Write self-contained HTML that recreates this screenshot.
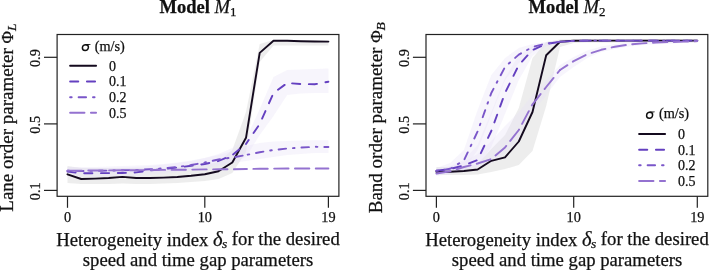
<!DOCTYPE html>
<html><head><meta charset="utf-8"><style>
html,body{margin:0;padding:0;background:#fff;}
svg{display:block;will-change:transform;}
text{font-family:"Liberation Serif",serif;fill:#111;stroke:#111;stroke-width:0.25px;}
.tk{font-size:14.3px;}
.lg{font-size:14px;}
.ti{font-size:18.5px;font-weight:bold;}
.lb{font-size:18.7px;}
</style></head><body>
<svg width="709" height="270" viewBox="0 0 709 270">
<rect width="709" height="270" fill="#fff"/>
<polygon points="67.5,166.0 81.2,168.0 95.0,168.0 108.7,168.0 122.4,168.0 136.2,168.0 149.9,168.0 163.6,168.0 177.3,167.0 191.1,166.0 204.8,165.0 218.5,162.0 232.3,150.0 246.0,112.0 259.7,44.0 273.5,40.0 287.2,40.0 300.9,40.5 314.6,40.8 328.4,41.0 328.4,45.5 314.6,45.5 300.9,45.5 287.2,45.5 273.5,45.5 259.7,62.0 246.0,152.0 232.3,173.0 218.5,179.0 204.8,181.0 191.1,182.0 177.3,183.0 163.6,183.5 149.9,184.0 136.2,184.0 122.4,183.5 108.7,184.0 95.0,184.0 81.2,184.0 67.5,183.0" fill="#d6d6d6" fill-opacity="0.45"/>
<polygon points="67.5,167.0 81.2,168.0 95.0,168.0 108.7,168.0 122.4,167.5 136.2,167.0 149.9,166.0 163.6,164.5 177.3,163.0 191.1,161.0 204.8,158.0 218.5,154.0 232.3,148.0 246.0,139.0 259.7,109.0 273.5,77.0 287.2,70.0 300.9,69.5 314.6,69.0 328.4,68.5 328.4,93.0 314.6,93.0 300.9,93.5 287.2,95.0 273.5,116.0 259.7,135.0 246.0,157.0 232.3,163.0 218.5,166.5 204.8,169.0 191.1,171.0 177.3,172.5 163.6,174.0 149.9,175.0 136.2,176.0 122.4,176.5 108.7,177.0 95.0,177.0 81.2,177.0 67.5,175.0" fill="#e8e2f8" fill-opacity="0.36"/>
<polygon points="67.5,167.0 81.2,167.0 95.0,167.0 108.7,166.5 122.4,166.0 136.2,165.5 149.9,165.0 163.6,164.0 177.3,162.5 191.1,160.5 204.8,158.0 218.5,155.0 232.3,151.0 246.0,146.0 259.7,143.0 273.5,141.5 287.2,141.0 300.9,140.5 314.6,140.2 328.4,140.2 328.4,153.0 314.6,153.0 300.9,154.0 287.2,155.0 273.5,157.0 259.7,159.0 246.0,161.0 232.3,163.0 218.5,165.0 204.8,167.5 191.1,169.5 177.3,171.0 163.6,172.0 149.9,172.5 136.2,173.0 122.4,173.5 108.7,173.5 95.0,174.0 81.2,174.0 67.5,174.0" fill="#e8e2f8" fill-opacity="0.36"/>
<polyline points="67.5,174.3 81.2,179.0 95.0,178.6 108.7,178.0 122.4,176.9 136.2,178.0 149.9,178.0 163.6,177.6 177.3,177.0 191.1,175.8 204.8,174.3 218.5,171.3 232.3,162.5 246.0,137.8 259.7,52.9 273.5,40.7 287.2,40.8 300.9,41.2 314.6,41.5 328.4,41.6" fill="none" stroke="#140a1e" stroke-width="1.9" stroke-linejoin="round" stroke-linecap="round"/>
<polyline points="67.5,171.5 81.2,173.3 95.0,173.2 108.7,173.1 122.4,173.0 136.2,172.4 149.9,170.5 163.6,169.0 177.3,167.5 191.1,165.8 204.8,164.0 218.5,161.0 232.3,155.0 246.0,144.0" fill="none" stroke="#6440c0" stroke-width="1.9" stroke-linejoin="round" stroke-linecap="round" stroke-dasharray="8.2 8.6" stroke-dashoffset="0.00"/>
<polyline points="246.0,144.0 259.7,124.0 273.5,93.0 287.2,83.0" fill="none" stroke="#6440c0" stroke-width="1.9" stroke-linejoin="round" stroke-linecap="round" stroke-dasharray="8.2 8.6" stroke-dashoffset="3.45"/>
<polyline points="287.2,83.0 300.9,84.0 314.6,84.3 328.4,81.7" fill="none" stroke="#6440c0" stroke-width="1.9" stroke-linejoin="round" stroke-linecap="round" stroke-dasharray="8.2 8.6" stroke-dashoffset="11.92"/>
<polyline points="67.5,170.8 81.2,171.0 95.0,170.8 108.7,170.6 122.4,170.3 136.2,170.0 149.9,169.3 163.6,168.3 177.3,167.0 191.1,165.0 204.8,162.5 218.5,159.5 232.3,157.5 246.0,155.0" fill="none" stroke="#7a56c9" stroke-width="1.9" stroke-linejoin="round" stroke-linecap="round" stroke-dasharray="1.6 6.9 7.5 6.9" stroke-dashoffset="0.00"/>
<polyline points="246.0,155.0 259.7,152.3 273.5,150.0 287.2,148.5 300.9,147.6 314.6,146.8 328.4,147.0" fill="none" stroke="#7a56c9" stroke-width="1.9" stroke-linejoin="round" stroke-linecap="round" stroke-dasharray="1.6 6.9 7.5 6.9" stroke-dashoffset="21.19"/>
<polyline points="67.5,170.6 81.2,170.6 95.0,170.5 108.7,170.4 122.4,170.3 136.2,170.2 149.9,170.0 163.6,169.9 177.3,169.8 191.1,169.6 204.8,169.4 218.5,169.3 232.3,169.2 246.0,169.0" fill="none" stroke="#9472d0" stroke-width="1.9" stroke-linejoin="round" stroke-linecap="round" stroke-dasharray="14.4 6.4" stroke-dashoffset="0.00"/>
<polyline points="246.0,169.0 259.7,168.8 273.5,168.6 287.2,168.5 300.9,168.5 314.6,168.5 328.4,168.5" fill="none" stroke="#9472d0" stroke-width="1.9" stroke-linejoin="round" stroke-linecap="round" stroke-dasharray="14.4 6.4" stroke-dashoffset="13.44"/>
<rect x="57.1" y="34.5" width="281.8" height="161.8" fill="none" stroke="#222" stroke-width="1.2"/>
<line x1="44.0" y1="190.4" x2="57.1" y2="190.4" stroke="#222" stroke-width="1.2"/>
<text transform="translate(39.8 191.2) rotate(-90)" class="tk" text-anchor="middle">0.1</text>
<line x1="44.0" y1="123.9" x2="57.1" y2="123.9" stroke="#222" stroke-width="1.2"/>
<text transform="translate(39.8 124.7) rotate(-90)" class="tk" text-anchor="middle">0.5</text>
<line x1="44.0" y1="57.3" x2="57.1" y2="57.3" stroke="#222" stroke-width="1.2"/>
<text transform="translate(39.8 58.1) rotate(-90)" class="tk" text-anchor="middle">0.9</text>
<line x1="67.5" y1="196.3" x2="67.5" y2="207.8" stroke="#222" stroke-width="1.2"/>
<text x="67.5" y="221.6" class="tk" text-anchor="middle">0</text>
<line x1="204.8" y1="196.3" x2="204.8" y2="207.8" stroke="#222" stroke-width="1.2"/>
<text x="204.8" y="221.6" class="tk" text-anchor="middle">10</text>
<line x1="328.4" y1="196.3" x2="328.4" y2="207.8" stroke="#222" stroke-width="1.2"/>
<text x="328.4" y="221.6" class="tk" text-anchor="middle">19</text>
<polygon points="436.4,167.0 450.1,167.0 463.9,166.0 477.6,164.0 491.3,149.0 505.0,135.0 518.8,108.0 532.5,58.0 546.2,42.0 560.0,39.5 573.7,39.0 587.4,39.0 601.2,39.0 614.9,39.0 628.6,39.0 642.4,39.0 656.1,39.0 669.8,39.0 683.5,39.0 697.3,39.0 697.3,42.5 683.5,42.5 669.8,42.5 656.1,42.5 642.4,42.5 628.6,42.5 614.9,42.5 601.2,42.5 587.4,42.5 573.7,43.0 560.0,47.0 546.2,106.0 532.5,151.0 518.8,165.0 505.0,169.0 491.3,172.0 477.6,174.5 463.9,175.0 450.1,175.0 436.4,175.0" fill="#d6d6d6" fill-opacity="0.45"/>
<polygon points="436.4,169.0 450.1,166.0 463.9,160.0 477.6,145.0 491.3,112.0 505.0,78.0 518.8,55.0 532.5,46.0 546.2,42.5 560.0,41.0 573.7,40.0 587.4,39.5 601.2,39.5 614.9,39.5 628.6,39.5 642.4,39.5 656.1,39.5 669.8,39.5 683.5,39.5 697.3,39.5 697.3,41.5 683.5,41.5 669.8,41.5 656.1,41.5 642.4,41.5 628.6,41.5 614.9,41.5 601.2,41.5 587.4,41.5 573.7,42.0 560.0,43.0 546.2,46.0 532.5,56.0 518.8,80.0 505.0,114.0 491.3,147.0 477.6,167.0 463.9,170.0 450.1,173.0 436.4,175.0" fill="#e8e2f8" fill-opacity="0.36"/>
<polygon points="436.4,168.0 450.1,163.0 463.9,150.0 477.6,110.0 491.3,75.0 505.0,58.0 518.8,48.0 532.5,44.0 546.2,42.0 560.0,40.5 573.7,40.0 587.4,39.5 601.2,39.5 614.9,39.5 628.6,39.5 642.4,39.5 656.1,39.5 669.8,39.5 683.5,39.5 697.3,39.5 697.3,41.5 683.5,41.5 669.8,41.5 656.1,41.5 642.4,41.5 628.6,41.5 614.9,41.5 601.2,41.5 587.4,41.5 573.7,42.0 560.0,43.0 546.2,46.0 532.5,52.0 518.8,63.0 505.0,80.0 491.3,115.0 477.6,150.0 463.9,170.0 450.1,174.0 436.4,175.0" fill="#e8e2f8" fill-opacity="0.36"/>
<polygon points="436.4,170.0 450.1,167.0 463.9,162.0 477.6,154.0 491.3,141.0 505.0,126.0 518.8,112.0 532.5,95.0 546.2,80.0 560.0,65.0 573.7,57.0 587.4,50.5 601.2,46.5 614.9,44.0 628.6,42.4 642.4,41.4 656.1,40.8 669.8,40.4 683.5,40.0 697.3,39.8 697.3,42.5 683.5,43.0 669.8,43.8 656.1,44.3 642.4,45.0 628.6,46.5 614.9,49.0 601.2,52.0 587.4,58.0 573.7,67.0 560.0,77.0 546.2,95.0 532.5,113.0 518.8,138.0 505.0,154.0 491.3,163.0 477.6,167.5 463.9,171.0 450.1,174.0 436.4,176.0" fill="#e8e2f8" fill-opacity="0.36"/>
<polyline points="436.4,171.8 450.1,171.7 463.9,171.0 477.6,169.5 491.3,160.8 505.0,157.3 518.8,141.5 532.5,112.0 546.2,55.2 560.0,41.8 573.7,40.7 587.4,40.6 601.2,40.6 614.9,40.6 628.6,40.6 642.4,40.6 656.1,40.6 669.8,40.6 683.5,40.6 697.3,40.6" fill="none" stroke="#140a1e" stroke-width="1.9" stroke-linejoin="round" stroke-linecap="round"/>
<polyline points="436.4,170.8 450.1,169.0 463.9,165.5 477.6,160.0 491.3,131.0 505.0,93.0 518.8,65.0 532.5,50.0 546.2,44.0 560.0,41.8 573.7,40.9 587.4,40.6 601.2,40.6 614.9,40.6 628.6,40.6 642.4,40.6 656.1,40.6 669.8,40.6 683.5,40.6 697.3,40.6" fill="none" stroke="#6440c0" stroke-width="1.9" stroke-linejoin="round" stroke-linecap="round" stroke-dasharray="8.2 8.6" stroke-dashoffset="0.00"/>
<polyline points="436.4,170.8 450.1,168.8 463.9,160.5 477.6,131.5 491.3,93.0 505.0,67.0 518.8,54.6 532.5,47.0 546.2,43.5 560.0,41.8 573.7,40.9 587.4,40.6 601.2,40.6 614.9,40.6 628.6,40.6 642.4,40.6 656.1,40.6 669.8,40.6 683.5,40.6 697.3,40.6" fill="none" stroke="#7a56c9" stroke-width="1.9" stroke-linejoin="round" stroke-linecap="round" stroke-dasharray="1.6 6.9 7.5 6.9" stroke-dashoffset="0.00"/>
<polyline points="436.4,173.5 450.1,171.3 463.9,167.0 477.6,163.5 491.3,159.0 505.0,147.5 518.8,130.0 532.5,104.3 546.2,87.0 560.0,70.0" fill="none" stroke="#9472d0" stroke-width="1.9" stroke-linejoin="round" stroke-linecap="round" stroke-dasharray="14.4 6.4" stroke-dashoffset="0.00"/>
<polyline points="560.0,70.0 573.7,61.1 587.4,54.2 601.2,49.8 614.9,46.7 628.6,44.6 642.4,43.4 656.1,42.5 669.8,42.1 683.5,41.6 697.3,41.1" fill="none" stroke="#9472d0" stroke-width="1.9" stroke-linejoin="round" stroke-linecap="round" stroke-dasharray="14.4 6.4" stroke-dashoffset="5.51"/>
<rect x="426.0" y="34.5" width="281.8" height="161.8" fill="none" stroke="#222" stroke-width="1.2"/>
<line x1="412.9" y1="190.4" x2="426.0" y2="190.4" stroke="#222" stroke-width="1.2"/>
<text transform="translate(408.7 191.2) rotate(-90)" class="tk" text-anchor="middle">0.1</text>
<line x1="412.9" y1="123.9" x2="426.0" y2="123.9" stroke="#222" stroke-width="1.2"/>
<text transform="translate(408.7 124.7) rotate(-90)" class="tk" text-anchor="middle">0.5</text>
<line x1="412.9" y1="57.3" x2="426.0" y2="57.3" stroke="#222" stroke-width="1.2"/>
<text transform="translate(408.7 58.1) rotate(-90)" class="tk" text-anchor="middle">0.9</text>
<line x1="436.4" y1="196.3" x2="436.4" y2="207.8" stroke="#222" stroke-width="1.2"/>
<text x="436.4" y="221.6" class="tk" text-anchor="middle">0</text>
<line x1="573.7" y1="196.3" x2="573.7" y2="207.8" stroke="#222" stroke-width="1.2"/>
<text x="573.7" y="221.6" class="tk" text-anchor="middle">10</text>
<line x1="697.3" y1="196.3" x2="697.3" y2="207.8" stroke="#222" stroke-width="1.2"/>
<text x="697.3" y="221.6" class="tk" text-anchor="middle">19</text>
<g transform="translate(85.40 47.60) skewX(-5)">
<ellipse cx="0" cy="0" rx="3.0" ry="2.95" fill="none" stroke="#111" stroke-width="1.45"/>
<path d="M-0.3 -3.6 L4.9 -3.7 L4.7 -2.95 L-0.3 -2.3 Z" fill="#111"/></g>
<text x="94.7" y="50.7" class="lg" style="font-size:14.3px">(m/s)</text>
<line x1="70.1" y1="65.8" x2="96.1" y2="65.8" stroke="#140a1e" stroke-width="1.9" stroke-linecap="round"/>
<text x="109.0" y="70.6" class="lg">0</text>
<line x1="70.1" y1="81.5" x2="96.1" y2="81.5" stroke="#6440c0" stroke-width="1.9" stroke-linecap="round" stroke-dasharray="8.2 8.6"/>
<text x="109.0" y="86.3" class="lg">0.1</text>
<line x1="70.1" y1="97.2" x2="96.1" y2="97.2" stroke="#7a56c9" stroke-width="1.9" stroke-linecap="round" stroke-dasharray="1.6 6.9 7.5 6.9"/>
<text x="109.0" y="102.0" class="lg">0.2</text>
<line x1="70.1" y1="112.8" x2="96.1" y2="112.8" stroke="#9472d0" stroke-width="1.9" stroke-linecap="round" stroke-dasharray="14.4 6.4"/>
<text x="109.0" y="117.6" class="lg">0.5</text>
<g transform="translate(649.60 115.20) skewX(-5)">
<ellipse cx="0" cy="0" rx="3.0" ry="2.95" fill="none" stroke="#111" stroke-width="1.45"/>
<path d="M-0.3 -3.6 L4.9 -3.7 L4.7 -2.95 L-0.3 -2.3 Z" fill="#111"/></g>
<text x="658.9" y="118.3" class="lg" style="font-size:14.3px">(m/s)</text>
<line x1="639.1" y1="134.0" x2="665.1" y2="134.0" stroke="#140a1e" stroke-width="1.9" stroke-linecap="round"/>
<text x="678.0" y="138.8" class="lg">0</text>
<line x1="639.1" y1="149.7" x2="665.1" y2="149.7" stroke="#6440c0" stroke-width="1.9" stroke-linecap="round" stroke-dasharray="8.2 8.6"/>
<text x="678.0" y="154.5" class="lg">0.1</text>
<line x1="639.1" y1="165.3" x2="665.1" y2="165.3" stroke="#7a56c9" stroke-width="1.9" stroke-linecap="round" stroke-dasharray="1.6 6.9 7.5 6.9"/>
<text x="678.0" y="170.1" class="lg">0.2</text>
<line x1="639.1" y1="181.0" x2="665.1" y2="181.0" stroke="#9472d0" stroke-width="1.9" stroke-linecap="round" stroke-dasharray="14.4 6.4"/>
<text x="678.0" y="185.8" class="lg">0.5</text>
<text x="198" y="12.8" class="ti" text-anchor="middle">Model <tspan font-style="italic" font-weight="normal">M</tspan><tspan font-weight="normal" font-size="13" dy="3">1</tspan></text>
<text x="567" y="12.8" class="ti" text-anchor="middle">Model <tspan font-style="italic" font-weight="normal">M</tspan><tspan font-weight="normal" font-size="13" dy="3">2</tspan></text>
<text transform="translate(12.6 117.6) rotate(-90)" class="lb" text-anchor="middle" style="font-size:19px">Lane order parameter <tspan style="font-size:17px">Φ</tspan><tspan font-style="italic" style="font-size:13.5px" dy="3">L</tspan></text>
<text transform="translate(382.1 117.7) rotate(-90)" class="lb" text-anchor="middle" style="font-size:19px">Band order parameter <tspan style="font-size:17px">Φ</tspan><tspan font-style="italic" style="font-size:13.5px" dy="3">B</tspan></text>
<text x="198" y="245.5" class="lb" text-anchor="middle">Heterogeneity index <tspan font-style="italic" style="font-size:20.5px">δ</tspan><tspan font-style="italic" style="font-size:13.5px" dy="2.8" dx="-0.6">s</tspan><tspan dy="-3"> for the desired</tspan></text>
<text x="198" y="265.9" class="lb" text-anchor="middle">speed and time gap parameters</text>
<text x="567" y="245.5" class="lb" text-anchor="middle">Heterogeneity index <tspan font-style="italic" style="font-size:20.5px">δ</tspan><tspan font-style="italic" style="font-size:13.5px" dy="2.8" dx="-0.6">s</tspan><tspan dy="-3"> for the desired</tspan></text>
<text x="567" y="265.9" class="lb" text-anchor="middle">speed and time gap parameters</text>
</svg>
</body></html>
